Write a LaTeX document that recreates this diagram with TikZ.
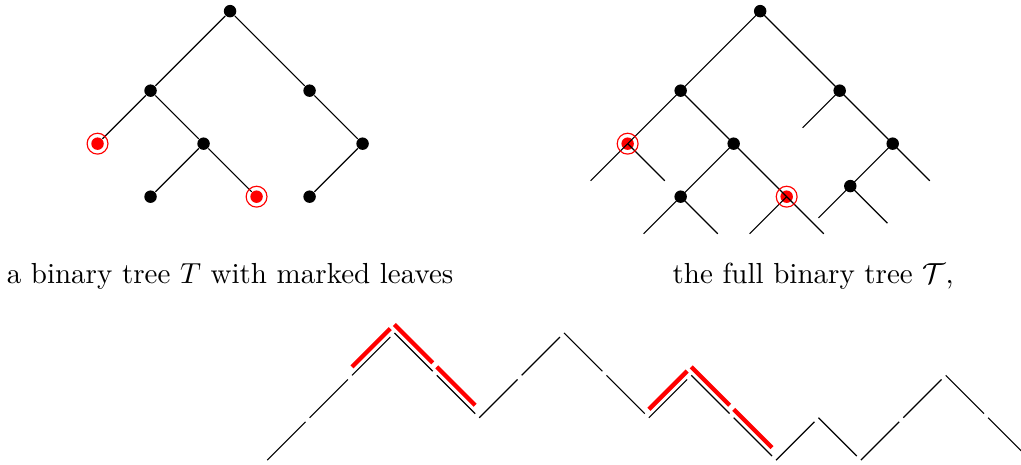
\documentclass[tikz,border=0pt]{standalone}
\usepackage{amsmath,amssymb}
\usetikzlibrary{calc}

\begin{document}
\begin{tikzpicture}[x=0.6426cm, y=0.6426cm,
  vtx/.style={circle, fill=black, inner sep=0pt, minimum size=4.3pt},
  mrk/.style={vtx, fill=red},
  ring/.style={red, line width=0.4pt},
  seg/.style={black, shorten >=2pt},
  hot/.style={red, line width=1.5pt, shorten >=2pt},
  lbl/.style={anchor=base},
]
\path[use as bounding box, clip] (-4.34,0.21) rectangle (14.92,-8.55);

% the tree T with marked leaves
\node[vtx] (l0) at (0,0) {};
\node[vtx] (l1) at (-1.5,-1.5) {};
\node[vtx] (l2) at (1.5,-1.5) {};
\node[mrk] (l3) at (-2.5,-2.5) {};
\node[vtx] (l4) at (-0.5,-2.5) {};
\node[vtx] (l5) at (2.5,-2.5) {};
\node[vtx] (l6) at (-1.5,-3.5) {};
\node[mrk] (l7) at (0.5,-3.5) {};
\node[vtx] (l8) at (1.5,-3.5) {};
\draw (l0) -- (l1);
\draw (l0) -- (l2);
\draw (l1) -- (l3);
\draw (l1) -- (l4);
\draw (l4) -- (l6);
\draw (l4) -- (l7);
\draw (l2) -- (l5);
\draw (l5) -- (l8);
\draw[ring] (l3) circle (3.6pt);
\draw[ring] (l7) circle (3.6pt);
\node[lbl] (capl) at (0,-5.13) {a binary tree $T$ with marked leaves};

% the full binary tree
\node[vtx] (r0) at (10,0) {};
\node[vtx] (r1) at (8.5,-1.5) {};
\node[vtx] (r2) at (11.5,-1.5) {};
\node[mrk] (r3) at (7.5,-2.5) {};
\node[vtx] (r4) at (9.5,-2.5) {};
\node[vtx] (r5) at (12.5,-2.5) {};
\node[vtx] (r6) at (8.5,-3.5) {};
\node[mrk] (r7) at (10.5,-3.5) {};
\node[vtx] (r8) at (11.7,-3.3) {};
\coordinate (s1) at (10.8,-2.2);
\coordinate (s2) at (6.8,-3.2);
\coordinate (s3) at (8.2,-3.2);
\coordinate (s4) at (13.2,-3.2);
\coordinate (s5) at (7.8,-4.2);
\coordinate (s6) at (9.2,-4.2);
\coordinate (s7) at (9.8,-4.2);
\coordinate (s8) at (11.2,-4.2);
\coordinate (s9) at (11.1,-3.9);
\coordinate (s10) at (12.4,-4.0);
\draw (r0.center) -- (r1.center);
\draw (r0.center) -- (r2.center);
\draw (r1.center) -- (r3.center);
\draw (r1.center) -- (r4.center);
\draw (r4.center) -- (r6.center);
\draw (r4.center) -- (r7.center);
\draw (r2.center) -- (r5.center);
\draw (r5.center) -- (r8.center);
\draw (r2.center) -- (s1);
\draw (r3.center) -- (s2);
\draw (r3.center) -- (s3);
\draw (r5.center) -- (s4);
\draw (r6.center) -- (s5);
\draw (r6.center) -- (s6);
\draw (r7.center) -- (s7);
\draw (r7.center) -- (s8);
\draw (r8.center) -- (s9);
\draw (r8.center) -- (s10);
\draw[ring] (r3) circle (3.6pt);
\draw[ring] (r7) circle (3.6pt);
\node[lbl] (capr) at (11,-5.13) {the full binary tree $\mathcal{T}$,};

% the contour path
\foreach \h [count=\i from 0] in {0,1,2,3,2,1,2,3,2,1,2,1,0,1,0,1,2,1,0}
  \coordinate (p\i) at (0.7+0.8*\i,-8.47+0.8*\h);
\foreach \i [evaluate=\i as \j using int(\i+1)] in {0,...,17}
  \draw[seg] (p\i) -- (p\j);
\foreach \i [evaluate=\i as \j using int(\i+1)] in {2,3,4,9,10,11}
  \draw[hot] ([yshift=2.9pt]p\i) -- ([yshift=2.9pt]p\j);
\end{tikzpicture}
\end{document}
